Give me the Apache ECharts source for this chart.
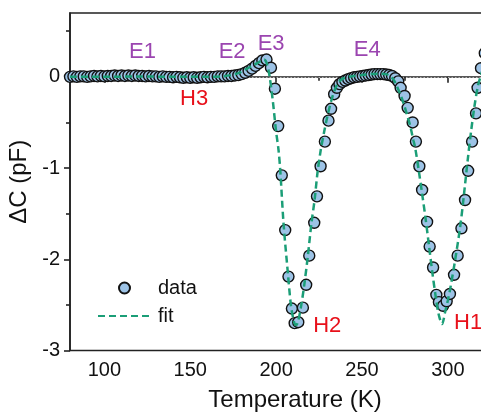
<!DOCTYPE html>
<html>
<head>
<meta charset="utf-8">
<script src="https://cdn.jsdelivr.net/npm/echarts@6/dist/echarts.min.js"></script>
<style>
html,body{margin:0;padding:0;background:#fff;}
#c{width:481px;height:418px;}
</style>
</head>
<body>
<div id="c"></div>
<script>
// ---- data ----
const dataT = [80,82,84,86,88,90,92,94,96,98,100,102,104,106,108,110,112,114,116,118,120,122,124,126,128,130,132,134,136,138,140,142,144,146,148,150,152,154,156,158,160,162,164,166,168,170,172,174,176,178,
  180,182,184,186,188,190,192,194.4,197,199.3,201.2,203.3,205.3,207.2,209.2,210.8,212.9,215.6,217.5,219.3,222.2,223.8,225.9,228.4,230.5,232,233.8,235.4,236.9,
  238.6,240.3,242,243.7,245.4,247.1,248.8,250.5,252.2,253.9,255.6,257.3,259,260.7,262.4,264.1,265.8,267.5,269.4,271.1,272.5,274.8,276.6,279.5,281.4,283.4,285,
  287.9,289.4,291.4,293.3,294.8,297.2,299.3,301.2,303.6,305.7,307.9,310,311.8,314.1,316.4,317.3,319.3,321.5];
const dataV = [0,0.005,0,0.005,0.005,0,0.005,0.01,0.005,0.01,0.005,0.01,0.01,0.015,0.01,0.015,0.01,0.015,0.01,0.015,0.01,0.01,0.005,0.01,0.005,0.005,0,0.005,0,0,-0.005,0,-0.005,-0.01,-0.005,-0.01,-0.005,-0.01,-0.005,0,-0.005,0,0,0.005,0.005,0.005,0.01,0.01,0.015,0.02,
  0.03,0.045,0.065,0.09,0.12,0.15,0.18,0.19,0.10,-0.13,-0.54,-1.08,-1.68,-2.19,-2.54,-2.70,-2.69,-2.53,-2.28,-1.96,-1.60,-1.31,-0.98,-0.71,-0.48,-0.35,-0.19,-0.12,-0.08,
  -0.055,-0.04,-0.025,-0.015,-0.005,0,0.005,0.01,0.015,0.02,0.025,0.03,0.03,0.03,0.03,0.025,0.02,0.01,-0.015,-0.05,-0.12,-0.21,-0.34,-0.50,-0.71,-0.98,-1.24,
  -1.59,-1.86,-2.09,-2.39,-2.47,-2.51,-2.46,-2.38,-2.17,-1.96,-1.66,-1.35,-1.03,-0.71,-0.40,-0.12,0.095,0.26];

const fitT = [80,100,120,140,160,168,174,178,182,186,189,191.5,193,194.5,196,198,200,201.4,202.4,204.3,206.6,208.6,210,211.3,212.5,214.4,216.4,218.5,220.6,222.4,224.1,226,228,230,232,234,236,238,240,245,250,255,260,264,267,269,270.5,272.3,274.2,276,278.1,280,281,283,285,287,289,291,293,294.6,296.6,298.5,300,301.4,304.3,307.2,309.2,311.5,313.5,315.5,317.5,319,321,323];
const fitV = [0,0,0.005,0,0,0.005,0.02,0.04,0.08,0.12,0.15,0.18,0.19,0.15,0.03,-0.25,-0.6,-0.8,-1.02,-1.6,-2.1,-2.5,-2.65,-2.72,-2.70,-2.53,-2.28,-1.96,-1.6,-1.35,-1.05,-0.8,-0.6,-0.42,-0.27,-0.15,-0.07,-0.03,-0.01,0.01,0.02,0.03,0.035,0.03,0,-0.05,-0.11,-0.19,-0.29,-0.4,-0.54,-0.7,-0.78,-1.02,-1.28,-1.55,-1.85,-2.15,-2.42,-2.6,-2.71,-2.57,-2.45,-2.32,-2,-1.64,-1.32,-0.92,-0.6,-0.32,-0.1,0,0.12,0.2];

const xTickLabels = [100,150,200,250,300];
const xMinorTicks = [125,175,225,275,325];
const yTickLabels = [-3,-2,-1,0];
const yMinorTicks = [-2.5,-1.5,-0.5,0.5];

const annoNames = ['E1','E2','E3','E4','H3','H2','H1'];
const annoT = [122.2,174.4,197.1,253.1,152.3,229.8,311.8];
const annoV = [0.274,0.274,0.36,0.30,-0.24,-2.73,-2.70];
const annoColors = ['#9B45B0','#9B45B0','#9B45B0','#9B45B0','#E8101A','#E8101A','#E8101A'];

// ---- chart ----
const FONT = 'Liberation Sans, Arial, Helvetica, sans-serif';
const chart = echarts.init(document.getElementById('c'), null, {renderer:'canvas'});
const X_MIN = 80, X_MAX = 342, Y_MIN = -3, Y_MAX = 0.7;
const axisLineStyle = {color:'#222', width:1.6};

const option = {
  animation:false,
  backgroundColor:'#fff',
  grid:{left:70, top:13, width:450, height:337.5, outerBoundsMode:'none', containLabel:false,
        show:true, borderColor:'#222', borderWidth:1.6, backgroundColor:'transparent'},
  legend:{
    orient:'vertical', left:92, top:273, padding:5, itemWidth:53, itemHeight:11, itemGap:8,
    textStyle:{fontFamily:FONT, fontSize:20, color:'#111', padding:[0,0,0,2]},
    data:[{name:'data'}, {name:'fit', itemStyle:{opacity:0}}]
  },
  xAxis:[{
    type:'value', min:X_MIN, max:X_MAX,
    name:'Temperature (K)', nameLocation:'middle', nameGap:38,
    nameTextStyle:{fontFamily:FONT, fontSize:24, color:'#111'},
    axisLine:{show:true, lineStyle:axisLineStyle},
    axisTick:{show:true, length:6, inside:false, customValues:xTickLabels, lineStyle:axisLineStyle},
    axisLabel:{show:true, customValues:xTickLabels, fontFamily:FONT, fontSize:20, color:'#111', margin:10},
    splitLine:{show:false}
  },{
    type:'value', min:X_MIN, max:X_MAX, position:'bottom',
    axisLine:{show:false},
    axisTick:{show:true, length:4, customValues:xMinorTicks, lineStyle:axisLineStyle},
    axisLabel:{show:false}, splitLine:{show:false}
  }],
  yAxis:[{
    type:'value', min:Y_MIN, max:Y_MAX,
    name:'ΔC (pF)', nameLocation:'middle', nameGap:33,
    nameTextStyle:{fontFamily:FONT, fontSize:24, color:'#111'},
    axisLine:{show:true, lineStyle:axisLineStyle},
    axisTick:{show:true, length:6, customValues:yTickLabels, lineStyle:axisLineStyle},
    axisLabel:{show:true, customValues:yTickLabels, fontFamily:FONT, fontSize:20, color:'#111', margin:10},
    splitLine:{show:false}
  },{
    type:'value', min:Y_MIN, max:Y_MAX, position:'left',
    axisLine:{show:false},
    axisTick:{show:true, length:4, customValues:yMinorTicks, lineStyle:axisLineStyle},
    axisLabel:{show:false}, splitLine:{show:false}
  }],
  series:[
    {
      name:'data', type:'scatter', xAxisIndex:0, yAxisIndex:0, z:3,
      symbol:'circle', symbolSize:11,
      itemStyle:{color:'#9DC3E6', borderColor:'#111', borderWidth:1.4, opacity:1},
      data:dataT.map((t,i)=>[t,dataV[i]])
    },
    {
      name:'fit', type:'line', xAxisIndex:0, yAxisIndex:0, z:4,
      showSymbol:false, symbol:'none', smooth:0.3,
      lineStyle:{color:'#1B9E77', width:2.5, type:[7,4]},
      itemStyle:{color:'#1B9E77'},
      data:fitT.map((t,i)=>[t,fitV[i]])
    },
    {
      name:'zero', type:'line', xAxisIndex:0, yAxisIndex:0, z:1,
      showSymbol:false, symbol:'none', silent:true,
      lineStyle:{opacity:0}, data:[],
      markLine:{
        silent:true, symbol:'none', z:1,
        label:{show:false},
        lineStyle:{color:'#b5b5b5', width:1, type:[1.5,2]},
        data:[{yAxis:0}]
      }
    },
    {
      name:'labels', type:'scatter', xAxisIndex:0, yAxisIndex:0, z:5,
      symbolSize:1, itemStyle:{color:'rgba(0,0,0,0)', opacity:1}, silent:true,
      data:annoNames.map((n,i)=>({value:[annoT[i],annoV[i]], name:n,
        label:{show:true, position:'inside', formatter:n, color:annoColors[i], textBorderWidth:0, textBorderColor:'transparent',
               fontFamily:FONT, fontSize:22}}))
    }
  ]
};
chart.setOption(option);
</script>
</body>
</html>
